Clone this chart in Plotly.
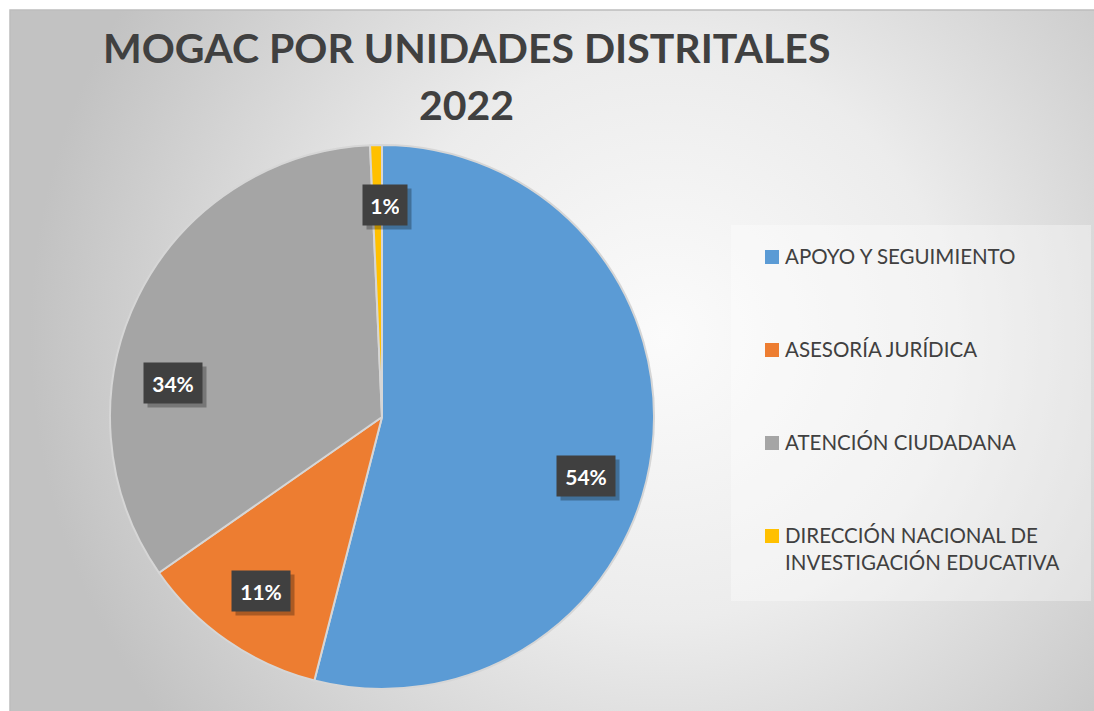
import base64
import math
from plotly import graph_objects as go

# data (share of each unit, in percent)
units = [
    "APOYO Y SEGUIMIENTO",
    "ASESORÍA JURÍDICA",
    "ATENCIÓN CIUDADANA",
    "DIRECCIÓN NACIONAL DE<br>INVESTIGACIÓN EDUCATIVA",
]
shares = [54.0, 11.3, 34.0, 0.7]
colors = ["#5B9BD5", "#ED7D31", "#A5A5A5", "#FFC000"]
title_lines = ["MOGAC POR UNIDADES DISTRITALES", "2022"]

W, H = 1094, 711
FONT = "Lato"

# pie placement (pixels)
pie_cx, pie_cy, pie_r = 382, 417, 272
dom_x = [(pie_cx - pie_r) / W, (pie_cx + pie_r) / W]
dom_y = [1 - (pie_cy + pie_r) / H, 1 - (pie_cy - pie_r) / H]


def px_x(x):
    return x / W


def px_y(y):
    return 1 - y / H


# gradient background as an svg image
svg = f"""<svg xmlns='http://www.w3.org/2000/svg' width='{W}' height='{H}'>
<defs><radialGradient id='g' cx='660' cy='330' r='640' gradientUnits='userSpaceOnUse'>
<stop offset='0' stop-color='#fbfbfb'/><stop offset='0.45' stop-color='#ececec'/>
<stop offset='1' stop-color='#c2c2c2'/></radialGradient></defs>
<rect width='{W}' height='{H}' fill='url(#g)'/></svg>"""
bg_src = "data:image/svg+xml;base64," + base64.b64encode(svg.encode()).decode()

fig = go.Figure()

fig.add_trace(
    go.Pie(
        labels=units,
        values=shares,
        sort=False,
        direction="clockwise",
        rotation=0,
        marker=dict(colors=colors, line=dict(color="#d6d6d6", width=2)),
        textinfo="none",
        domain=dict(x=dom_x, y=dom_y),
        hovertemplate="%{label}: %{percent:.0%}<extra></extra>",
        showlegend=False,
    )
)

annotations = []
shapes = [
    dict(type="rect", xref="paper", yref="paper", x0=px_x(10), x1=1.2, y0=-0.2,
         y1=px_y(10), line=dict(color="#bdbdbd", width=1.5), layer="below"),
    # legend panel
    dict(type="rect", xref="paper", yref="paper", x0=px_x(731), x1=px_x(1091),
         y0=px_y(601), y1=px_y(225), fillcolor="rgba(255,255,255,0.35)",
         line=dict(width=0), layer="below"),
]

# data labels in dark boxes, placed from each slice's angle
nudge = [9, 0, -17, 2]
frac = 0.78
total = sum(shares)
cum = 0
for v, dn in zip(shares, nudge):
    ang = math.radians(360 * (cum + v / 2) / total + dn)
    cum += v
    px = pie_cx + frac * pie_r * math.sin(ang)
    py = pie_cy - frac * pie_r * math.cos(ang)
    txt = f"{round(100 * v / total)}%"
    common = dict(x=px_x(px), y=px_y(py), xref="paper", yref="paper",
                  xanchor="center", yanchor="middle", showarrow=False,
                  borderpad=8, width=14 * len(txt), height=24)
    annotations.append(dict(text=" ", bgcolor="rgba(0,0,0,0.28)", xshift=4, yshift=-4,
                            font=dict(family=FONT, size=21), **common))
    annotations.append(dict(text=f"<b>{txt}</b>", bgcolor="#404040",
                            font=dict(family=FONT, size=21, color="white"), **common))

# hand-built legend with wide row spacing
leg_x, leg_y0, leg_step, sq = 765, 257, 93, 14
for i, (name, col) in enumerate(zip(units, colors)):
    cy = leg_y0 + i * leg_step
    shapes.append(dict(type="rect", xref="paper", yref="paper",
                       x0=px_x(leg_x), x1=px_x(leg_x + sq),
                       y0=px_y(cy + sq / 2), y1=px_y(cy - sq / 2),
                       fillcolor=col, line=dict(width=0)))
    annotations.append(dict(text=name, x=px_x(leg_x + sq + 4), y=px_y(cy - 15),
                            xref="paper", yref="paper", xanchor="left", yanchor="top",
                            align="left", showarrow=False,
                            font=dict(family=FONT, size=20.5, color="#404040")))

# title, one annotation per line
for i, line in enumerate(title_lines):
    annotations.append(dict(text=f"<b>{line}</b>", x=px_x(466), y=px_y(47 + 58 * i),
                            xref="paper", yref="paper", xanchor="center",
                            yanchor="middle", showarrow=False,
                            font=dict(family=FONT, size=41, color="#404040")))

fig.update_layout(
    width=W,
    height=H,
    margin=dict(l=0, r=0, t=0, b=0),
    paper_bgcolor="white",
    showlegend=False,
    images=[
        dict(source=bg_src, xref="paper", yref="paper", x=px_x(10), y=px_y(10),
             sizex=1 - 10 / W, sizey=1 - 10 / H, sizing="stretch", layer="below")
    ],
    shapes=shapes,
    annotations=annotations,
)

fig.write_html("out.html", config={"displayModeBar": False},
               post_script="document.body.style.margin='0';")
